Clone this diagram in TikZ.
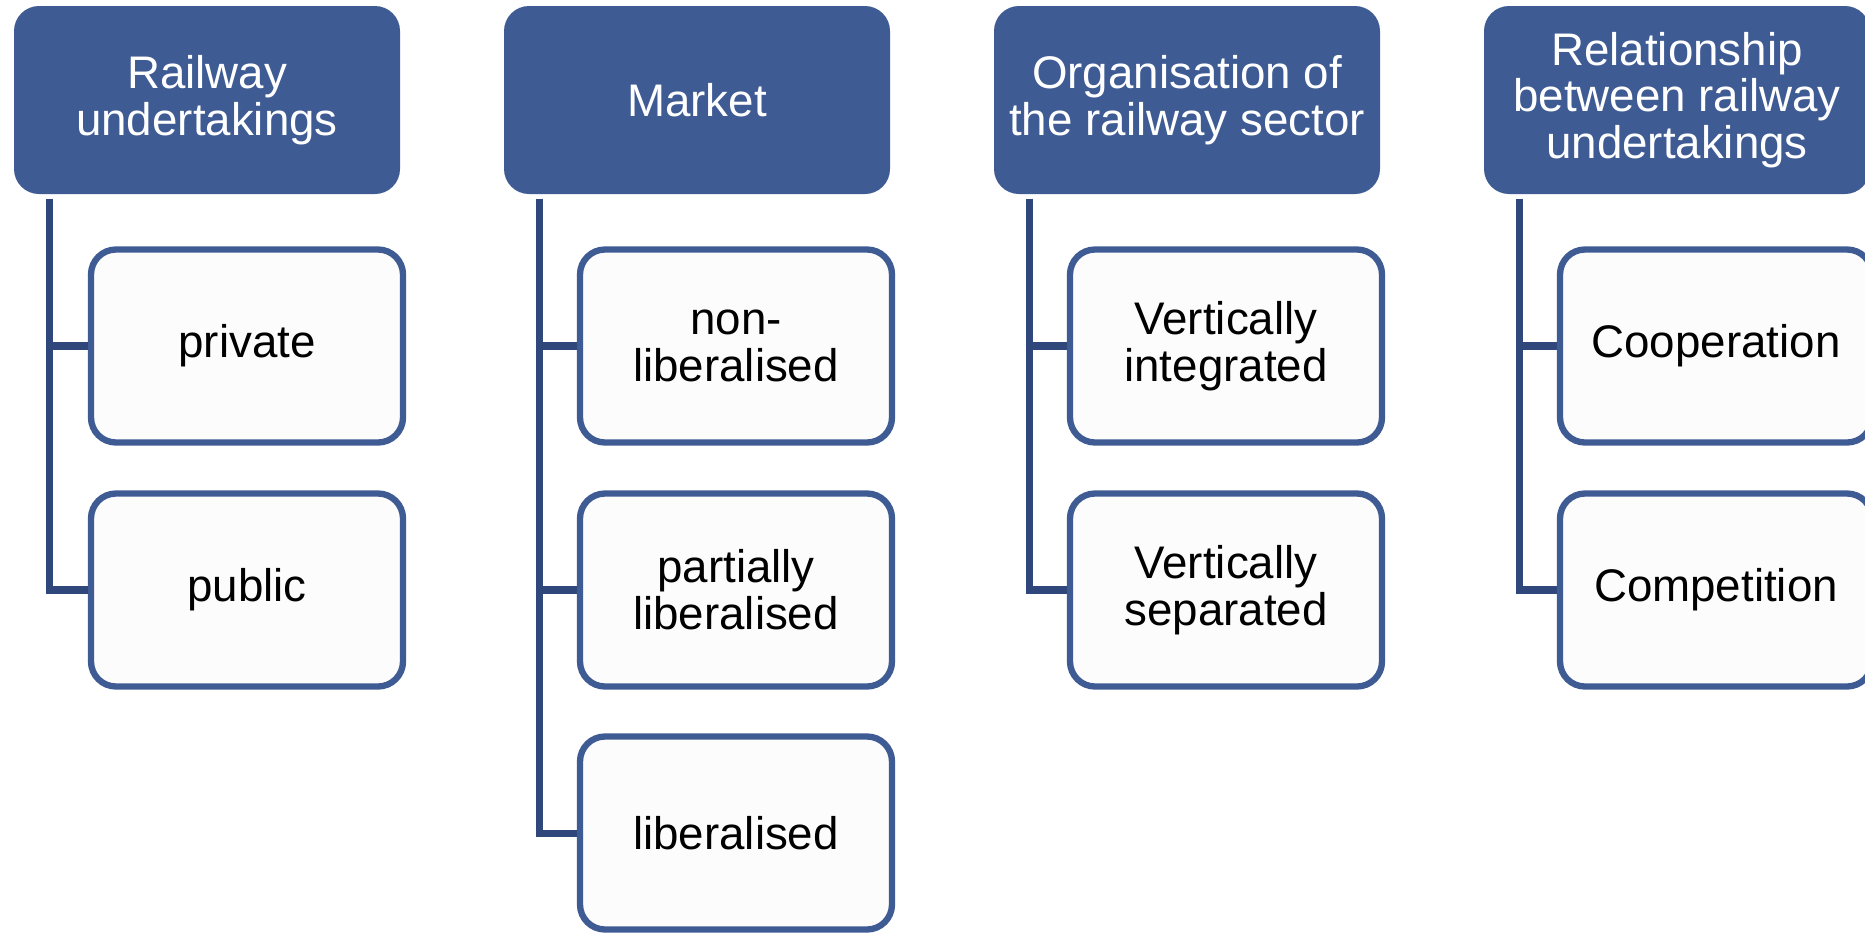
\documentclass[tikz,border=0pt]{standalone}
\usepackage{fontspec}
\setmainfont{Liberation Sans}
\usetikzlibrary{arrows.meta}

\definecolor{headblue}{RGB}{63,91,148}
\definecolor{linkblue}{RGB}{47,71,122}
\definecolor{boxfill}{RGB}{252,252,252}

\begin{document}
\begin{tikzpicture}
  \tikzset{head/.style = {shape=rectangle,rounded corners=2.5mm,fill=headblue,text=white,minimum width=3.86cm,minimum height=1.88cm,align=center,inner sep=1pt,font=\fontsize{13}{13.3}\selectfont}}
  \tikzset{item/.style = {shape=rectangle,rounded corners=2.5mm,draw=headblue,line width=1.8pt,fill=boxfill,minimum width=3.12cm,minimum height=1.93cm,align=center,inner sep=1pt,font=\fontsize{13}{13.3}\selectfont}}
  \tikzset{link/.style = {draw=linkblue,line width=2pt}}

  \useasboundingbox (0,0) rectangle (18.65,-9.32);

	\node[head] (H1) at (2.07,-1.00) {Railway\\undertakings};
	\node[head] (H2) at (6.97,-1.00) {Market};
	\node[head] (H3) at (11.87,-1.00) {Organisation of\\the railway sector};
	\node[head] (H4) at (16.77,-1.00) {Relationship\\between railway\\undertakings};

	\node[item] (H1a) at (2.47,-3.46) {private};
	\node[item] (H1b) at (2.47,-5.90) {public};
	\node[item] (H2a) at (7.36,-3.46) {non-\\liberalised};
	\node[item] (H2b) at (7.36,-5.90) {partially\\liberalised};
	\node[item] (H2c) at (7.36,-8.33) {liberalised};
	\node[item] (H3a) at (12.26,-3.46) {Vertically\\integrated};
	\node[item] (H3b) at (12.26,-5.90) {Vertically\\separated};
	\node[item] (H4a) at (17.16,-3.46) {Cooperation};
	\node[item] (H4b) at (17.16,-5.90) {Competition};

       \foreach \from/\to in {H1/H1a, H1/H1b, H2/H2a, H2/H2b, H2/H2c, H3/H3a, H3/H3b, H4/H4a, H4/H4b}
    \draw[link] ([xshift=3.6mm,yshift=-0.4mm]\from.south west) |- (\to.west);
\end{tikzpicture}
\end{document}
